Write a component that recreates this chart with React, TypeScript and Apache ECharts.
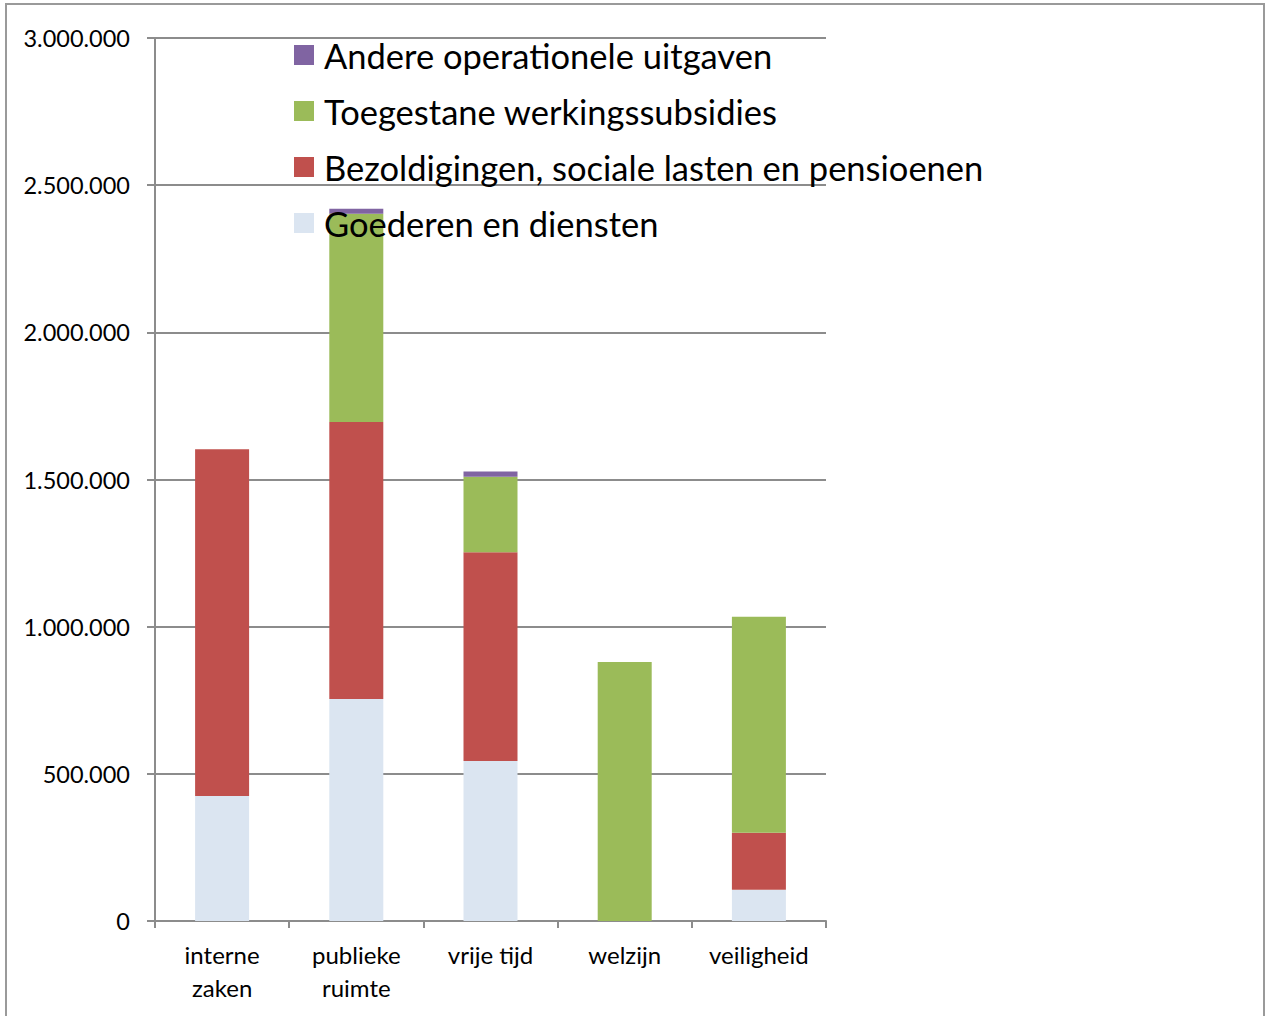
import React, { useEffect, useRef } from "react";
import * as echarts from "echarts";

const categories = ["interne\nzaken", "publieke\nruimte", "vrije tijd", "welzijn", "veiligheid"];
const goederen = [425000, 754000, 544000, 0, 106000];
const bezoldigingen = [1178000, 941000, 709000, 0, 194000];
const toegestane = [0, 708000, 256000, 880000, 734000];
const andere = [0, 17000, 18000, 0, 0];
const yTicks = { min: 0, max: 3000000, interval: 500000 };

const seriesNames = [
  "Goederen en diensten",
  "Bezoldigingen, sociale lasten en pensioenen",
  "Toegestane werkingssubsidies",
  "Andere operationele uitgaven",
];
const seriesColors = ["#DBE5F1", "#C0504D", "#9BBB59", "#8064A2"];
const seriesData = [goederen, bezoldigingen, toegestane, andere];

function fmt(v: number): string {
  return String(Math.round(v)).replace(/\B(?=(\d{3})+(?!\d))/g, ".");
}

export default function App() {
  const ref = useRef<HTMLDivElement>(null);
  useEffect(() => {
    if (!ref.current) return;
    const chart = echarts.init(ref.current, undefined, { renderer: "svg" });
    const font = "Lato, 'Open Sans', sans-serif";
    chart.setOption({
      animation: false,
      backgroundColor: "#ffffff",
      textStyle: { fontFamily: font },
      grid: { left: 155, right: 439, top: 38, bottom: 95, containLabel: false },
      legend: {
        orient: "vertical",
        left: 294,
        top: 37,
        padding: 0,
        itemWidth: 20,
        itemHeight: 20,
        itemGap: 20,
        icon: "rect",
        data: [...seriesNames].reverse(),
        textStyle: { fontSize: 34.5, color: "#000", fontFamily: font, lineHeight: 36, padding: [0, 0, 0, 5] },
        selectedMode: false,
      },
      xAxis: {
        type: "category",
        data: categories,
        axisLine: { show: true, lineStyle: { color: "#8C8C8C", width: 2 } },
        axisTick: { show: true, length: 7, lineStyle: { color: "#8C8C8C", width: 2 } },
        axisLabel: { color: "#000", fontSize: 24, lineHeight: 33, margin: 17, fontFamily: font, interval: 0 },
      },
      yAxis: {
        type: "value",
        min: yTicks.min,
        max: yTicks.max,
        interval: yTicks.interval,
        axisLine: { show: true, lineStyle: { color: "#8C8C8C", width: 2 } },
        axisTick: { show: true, length: 8, lineStyle: { color: "#8C8C8C", width: 2 } },
        splitLine: { show: true, lineStyle: { color: "#8C8C8C", width: 2 } },
        axisLabel: { color: "#000", fontSize: 23.5, margin: 25, fontFamily: font, formatter: (v: number) => fmt(v) },
      },
      series: seriesNames.map((name, i) => ({
        name,
        type: "bar",
        stack: "total",
        barWidth: 54,
        itemStyle: { color: seriesColors[i] },
        data: seriesData[i],
      })),
      graphic: [
        {
          type: "rect",
          shape: { x: 6, y: 4, width: 1258, height: 1030 },
          style: { fill: "none", stroke: "#9A9A9A", lineWidth: 2 },
          silent: true,
          z: -10,
        },
      ],
    });
    return () => chart.dispose();
  }, []);
  return <div ref={ref} style={{ position: "absolute", left: 0, top: 0, width: 1265, height: 1016 }} />;
}
